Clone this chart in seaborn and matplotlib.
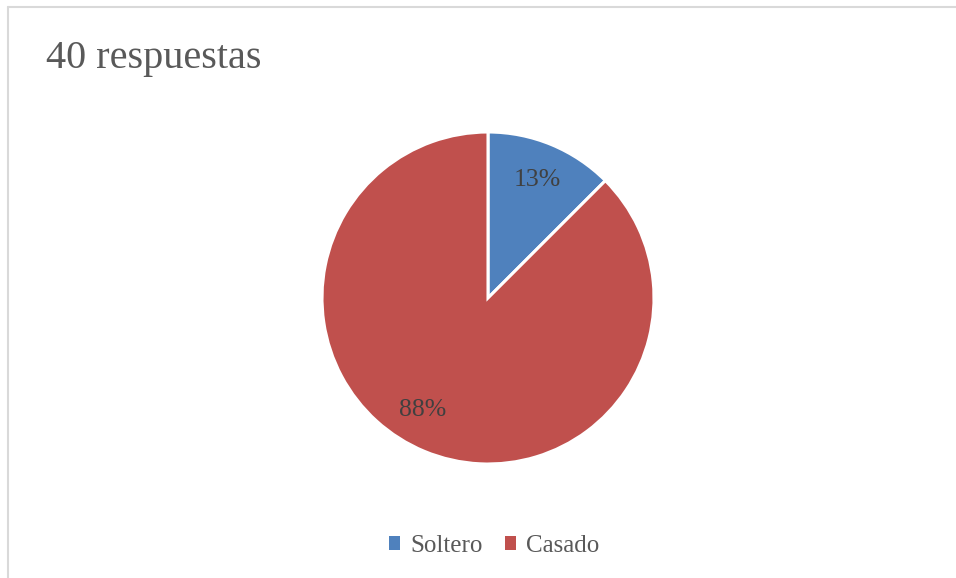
import math
import matplotlib
matplotlib.use("Agg")
import matplotlib.pyplot as plt
from matplotlib.lines import Line2D
from matplotlib.patches import Patch
import seaborn as sns

# Survey data
categories = ["Soltero", "Casado"]
counts = [5, 35]
title_text = "40 respuestas"

sns.set_theme(style="white")
plt.rcParams["font.family"] = ["Liberation Serif", "DejaVu Serif"]

colors = ["#4f81bd", "#c0504d"]
W, H = 956, 578
fig = plt.figure(figsize=(W / 100, H / 100), dpi=100)
fig.patch.set_facecolor("white")

# pie area: centre (488, 298) px, radius 166 px
cx, cy, r = 488, 298, 166
ax = fig.add_axes([(cx - r) / W, (H - cy - r) / H, 2 * r / W, 2 * r / H])


def pct_label(p):
    return f"{math.floor(p + 0.5)}%"


wedges, texts, autotexts = ax.pie(
    counts,
    colors=colors,
    startangle=90,
    counterclock=False,
    autopct=pct_label,
    pctdistance=0.77,
    wedgeprops=dict(edgecolor="white", linewidth=2.2),
    textprops=dict(fontsize=18.5, color="#404040"),
)
ax.set_aspect("equal")
ax.set_xlim(-1, 1)
ax.set_ylim(-1, 1)
ax.axis("off")

# "best fit" placement for the large slice label: nudge it along the arc
w = wedges[1]
mid = math.radians((w.theta1 + w.theta2) / 2 - 8)
autotexts[1].set_position((0.78 * math.cos(mid), 0.78 * math.sin(mid)))

# title
fig.text(46 / W, 1 - 68 / H, title_text, fontsize=29, color="#595959",
         ha="left", va="baseline")

# legend
handles = [Patch(facecolor=c, edgecolor="none") for c in colors]
fig.legend(handles, categories, loc="center", bbox_to_anchor=(494 / W, 1 - 546 / H),
           ncol=2, frameon=False, fontsize=18, labelcolor="#595959",
           handlelength=0.45, handleheight=0.45, handletextpad=0.4, columnspacing=0.9)

# chart frame edges
fig.add_artist(Line2D([8 / W, 8 / W], [0, 1 - 7 / H], color="#d9d9d9", lw=1.5))
fig.add_artist(Line2D([8 / W, 1], [1 - 7 / H, 1 - 7 / H], color="#d9d9d9", lw=1.5))

fig.savefig("out.png", dpi=100, facecolor="white")
